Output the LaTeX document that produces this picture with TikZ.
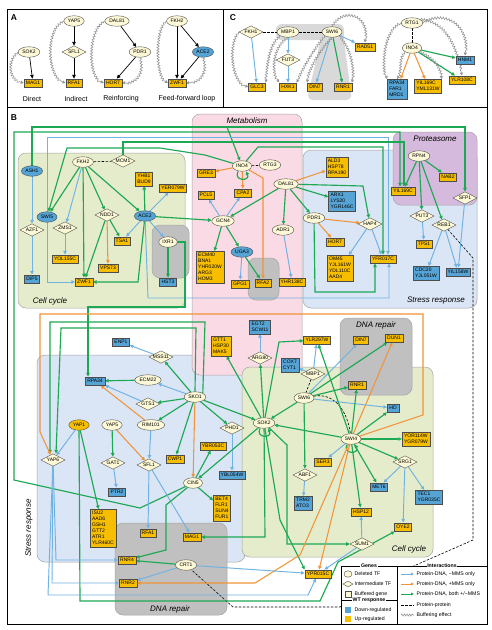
\documentclass[tikz,border=0pt]{standalone}
\usepackage{fontspec}
\setmainfont{Liberation Sans}
\usetikzlibrary{shapes.geometric,arrows.meta,decorations.pathmorphing}
\pgfdeclarelayer{bg}
\pgfdeclarelayer{edgel}
\pgfsetlayers{bg,edgel,main}
\definecolor{tfc}{RGB}{253,248,214}
\definecolor{dnb}{RGB}{86,164,213}
\definecolor{upy}{RGB}{247,190,0}
\definecolor{ebc}{RGB}{112,178,226}
\definecolor{eoc}{RGB}{240,148,58}
\definecolor{egc}{RGB}{29,168,84}
\definecolor{ccg}{RGB}{229,236,204}
\definecolor{metp}{RGB}{250,218,228}
\definecolor{strb}{RGB}{218,229,245}
\definecolor{prot}{RGB}{214,186,222}
\definecolor{dnag}{RGB}{192,192,192}
\definecolor{regb}{RGB}{165,165,165}
\definecolor{bufc}{RGB}{150,150,150}
\newcommand\nodefnt{\fontsize{5}{6}\selectfont}
\newcommand\regfnt{\fontsize{8}{9}\selectfont\itshape}
\newcommand\legfnt{\fontsize{5.2}{6}\selectfont}
\begin{document}
\begin{tikzpicture}[x=1pt,y=-1pt]
\tikzset{
 every node/.style={font=\nodefnt, text=black},
 tf/.style={ellipse, draw=black!75, line width=0.35pt, fill=tfc, inner xsep=1pt, inner ysep=0.3pt, minimum height=10.5pt, minimum width=17pt},
 tfb/.style={tf, fill=dnb},
 tfy/.style={tf, fill=upy},
 itf/.style={diamond, aspect=2, draw=black!75, line width=0.35pt, fill=tfc, inner sep=0pt, minimum height=12.5pt, minimum width=24pt},
 gu/.style={rectangle, draw=black!70, line width=0.4pt, fill=upy, inner xsep=2pt, inner ysep=2pt, align=left, minimum height=8.5pt},
 gd/.style={gu, fill=dnb},
 arr/.style={-{Triangle[length=3.6pt,width=3.4pt]}},
 eb/.style={draw=ebc, line width=0.95pt, arr},
 eo/.style={draw=eoc, line width=1.05pt, arr},
 eg/.style={draw=egc, line width=1.15pt, arr},
 ek/.style={draw=black, line width=0.7pt, arr},
 ppi/.style={draw=black, line width=0.6pt, dash pattern=on 2.5pt off 1.5pt},
 buf/.style={draw=bufc, line width=0.6pt, decorate, decoration={snake, amplitude=1.1pt, segment length=2.8pt, pre length=1pt, post length=3.5pt}, -{Triangle[length=3pt,width=3pt]}},
 region/.style={rounded corners=8pt, draw=regb, line width=0.5pt},
 rlab/.style={font=\regfnt},
 plab/.style={font=\fontsize{8.5}{9}\selectfont\bfseries},
 alab/.style={font=\fontsize{7}{8}\selectfont},
 lt/.style={fill=white, inner sep=0.7pt, font=\legfnt\bfseries},
 ll/.style={anchor=west, font=\legfnt, inner sep=0.5pt},
}
\useasboundingbox (0,0) rectangle (491,630);

% ---------------- backgrounds ----------------
\begin{pgfonlayer}{bg}
\fill[white] (0,0) rectangle (491,630);
\draw[region, fill=ccg] (18,153) rectangle (185,308);
\draw[region, fill=strb] (303,150) rectangle (477,308);
\draw[region, fill=prot] (393,132) rectangle (477,205);
\draw[region, fill=strb] (37,355) rectangle (245,562);
\draw[region, fill=metp] (192,114) rectangle (302,375);
\draw[region, fill=dnag] (248,258) rectangle (279,300);
\draw[region, fill=ccg] (242,367) rectangle (433,557);
\draw[region, fill=dnag] (340,318) rectangle (412,395);
\draw[region, fill=dnag] (115,523) rectangle (227,615);
\draw[region, fill=dnag] (152,225) rectangle (189,278);
\node[rlab] (lcc1) at (50,301) {Cell cycle};
\node[rlab] (lmet) at (247,121) {Metabolism};
\node[rlab] (lprot) at (435,139) {Proteasome};
\node[rlab] (lsr1) at (436,301) {Stress response};
\node[rlab] (ldna1) at (376,325) {DNA repair};
\node[rlab, rotate=90] (lsr2) at (29,528) {Stress response};
\node[rlab] (lcc2) at (409,549) {Cell cycle};
\node[rlab] (ldna2) at (170,609) {DNA repair};
\fill[gray!30, rounded corners=6pt] (276,24) rectangle (344,40);
\fill[gray!30, rounded corners=6pt] (322,34) -- (343,34) -- (352,100) -- (307,100) -- cycle;
\end{pgfonlayer}

% ---------------- frame ----------------
\draw[line width=0.7pt] (7,9) rectangle (487,624);
\draw[line width=0.7pt] (7,107) -- (487,107);
\draw[line width=0.7pt] (223,9) -- (223,107);
\node[plab] (pA) at (14,18) {A};
\node[plab] (pC) at (233,18) {C};
\node[plab] (pB) at (14,118) {B};

% ---------------- panel A ----------------
\node[tf] (aSOK2) at (29,52) {SOK2};
\node[gu] (aMAG1) at (33,83) {MAG1};
\node[tf] (aYAP5) at (74,21) {YAP5};
\node[itf] (aSFL1) at (74,52) {SFL1};
\node[gu] (aRFA1) at (74,83) {RFA1};
\node[tf] (aDAL81) at (117,21) {DAL81};
\node[tf] (aPDR1) at (140,52) {PDR1};
\node[gu] (aHOR7) at (113,83) {HOR7};
\node[tf] (aFKH2) at (177,21) {FKH2};
\node[tfb] (aACE2) at (203,52) {ACE2};
\node[gu] (aZWF1) at (177,83) {ZWF1};
\node[alab] (tA1) at (32,99) {Direct};
\node[alab] (tA2) at (76,99) {Indirect};
\node[alab] (tA3) at (121,99) {Reinforcing};
\node[alab] (tA4) at (187,99) {Feed-forward loop};

% ---------------- panel C ----------------
\node[itf] (cFKH1) at (251,32) {FKH1};
\node[tf] (cMBP1) at (288,32) {MBP1};
\node[tf] (cSWI6) at (332,32) {SWI6};
\node[gu] (cRAD51) at (365,47) {RAD51};
\node[itf] (cFUT3) at (288,60) {FUT3};
\node[gu] (cGLC3) at (257,87) {GLC3};
\node[gu] (cHXK1) at (288,87) {HXK1};
\node[gu] (cDIN7) at (315,87) {DIN7};
\node[gu] (cRNR1) at (343,87) {RNR1};
\node[tf] (cRTG1) at (412,23) {RTG1};
\node[tf] (cINO4) at (412,48) {INO4};
\node[gd] (cHNM1) at (465,60) {HNM1};
\node[gd] (cRPA34) at (397,89) {RPA34\\FAR1\\MRD1};
\node[gu] (cYIL169C) at (428,86) {YIL169C\\YML131W};
\node[gu] (cYLR108C) at (462,80) {YLR108C};

% ---------------- panel B nodes ----------------
\node[tfb] (ASH1) at (32,171) {ASH1};
\node[tf] (FKH2) at (83,162) {FKH2};
\node[itf] (MCM1) at (123,161) {MCM1};
\node[gu] (YHB1) at (144,179) {YHB1\\BUD9};
\node[gu] (YER079W) at (173,188) {YER079W};
\node[tfb] (SWI5) at (47,217) {SWI5};
\node[itf] (AZF1) at (32,230) {AZF1};
\node[itf] (ZMS1) at (65,228) {ZMS1};
\node[itf] (NDD1) at (107,215) {NDD1};
\node[tfb] (ACE2) at (145,216) {ACE2};
\node[gu] (TSA1) at (122,241) {TSA1};
\node[tf] (IXR1) at (168,242) {IXR1};
\node[gu] (YOL155C) at (65,259) {YOL155C};
\node[gu] (VPS73) at (108,268) {VPS73};
\node[gd] (DIP5) at (32,279) {DIP5};
\node[gu] (ZWF1) at (84,282) {ZWF1};
\node[gd] (HST3) at (168,282) {HST3};

\node[tf] (INO4) at (242,166) {INO4};
\node[tf] (RTG3) at (270,165) {RTG3};
\node[gu] (GRE3) at (206,173) {GRE3};
\node[gu] (CPA2) at (243,193) {CPA2};
\node[gu] (PCL5) at (206,195) {PCL5};
\node[tf] (GCN4) at (223,221) {GCN4};
\node[tf] (DAL81) at (286,184) {DAL81};
\node[tf] (ADR1) at (283,230) {ADR1};
\node[tfb] (UGA3) at (242,252) {UGA3};
\node[gu] (ECM40) at (210,267) {ECM40\\BNA1\\YHR020W\\ARG3\\HOM3};
\node[gu] (GPG1) at (240,284) {GPG1};
\node[gu] (RFA2) at (263,283) {RFA2};
\node[gu] (YHR138C) at (292,282) {YHR138C};

\node[gu] (ALD3) at (337,167) {ALD3\\HSP78\\RPA190};
\node[gd] (ARX1) at (342,201) {ARX1\\LYS20\\YGR146C};
\node[tf] (PDR1) at (314,218) {PDR1};
\node[itf] (HAP4) at (370,224) {HAP4};
\node[gu] (HOR7) at (335,242) {HOR7};
\node[gu] (OM45) at (340,268) {OM45\\YJL161W\\YDL110C\\AAD4};
\node[gu] (YFR017C) at (383,259) {YFR017C};
\node[tf] (RPN4) at (419,156) {RPN4};
\node[gu] (NAB2) at (448,177) {NAB2};
\node[gu] (YIL169C) at (403,191) {YIL169C};
\node[itf] (SFP1) at (465,198) {SFP1};
\node[itf] (PUT3) at (422,216) {PUT3};
\node[itf] (REB1) at (444,225) {REB1};
\node[gu] (TPS1) at (424,244) {TPS1};
\node[gd] (CDC20) at (426,273) {CDC20\\YJL051W};
\node[gd] (YIL158W) at (458,272) {YIL158W};

\node[gd] (ENP1) at (121,342) {ENP1};
\node[itf] (MSS11) at (161,357) {MSS11};
\node[gd] (EGT2) at (260,327) {EGT2\\SCW11};
\node[gu] (GTT1) at (221,346) {GTT1\\HSP30\\MAK5};
\node[itf] (ARG80) at (260,358) {ARG80};
\node[gu] (YLR297W) at (317,340) {YLR297W};
\node[gu] (DIN7) at (361,340) {DIN7};
\node[gu] (DUN1) at (394,338) {DUN1};
\node[gd] (COX7) at (290,365) {COX7\\CYT1};
\node[itf] (MBP1) at (313,374) {MBP1};
\node[gd] (RPA34) at (95,381) {RPA34};
\node[tf] (ECM22) at (148,380) {ECM22};
\node[gu] (RNR1) at (357,385) {RNR1};
\node[tf] (SKO1) at (195,397) {SKO1};
\node[tf] (SWI6) at (304,398) {SWI6};
\node[itf] (GTS1) at (148,404) {GTS1};
\node[gd] (HO) at (393,408) {HO};
\node[tfy] (YAP1) at (79,425) {YAP1};
\node[tf] (YAP5) at (112,425) {YAP5};
\node[tf] (RIM101) at (151,425) {RIM101};
\node[tf] (SOK2) at (264,423) {SOK2};
\node[itf] (PHD1) at (232,428) {PHD1};
\node[tf] (SWI4) at (351,439) {SWI4};
\node[gu] (YOR114W) at (416,439) {YOR114W\\YGR079W};
\node[gu] (YBR053C) at (213,446) {YBR053C};
\node[itf] (YAP6) at (53,460) {YAP6};
\node[itf] (GAT1) at (113,463) {GAT1};
\node[itf] (SFL1) at (149,465) {SFL1};
\node[gu] (CWP1) at (175,459) {CWP1};
\node[gu] (SER3) at (323,462) {SER3};
\node[itf] (SRG1) at (405,462) {SRG1};
\node[itf] (ABF1) at (305,475) {ABF1};
\node[gd] (YBL054W) at (232,475) {YBL054W};
\node[tf] (CIN5) at (193,483) {CIN5};
\node[gd] (MET6) at (379,487) {MET6};
\node[gd] (PTR2) at (117,492) {PTR2};
\node[gd] (TEC1) at (429,497) {TEC1\\YGR035C};
\node[gd] (TRM2) at (303,503) {TRM2\\ATO3};
\node[gu] (BET4) at (222,508) {BET4\\FLR1\\SUN4\\FUR1};
\node[gu] (HSP12) at (361,512) {HSP12};
\node[gu] (ISU2) at (103,528) {ISU2\\AAD6\\GSH1\\GTT2\\ATR1\\YLR460C};
\node[gu] (OYE2) at (403,527) {OYE2};
\node[gu] (RFA1) at (148,533) {RFA1};
\node[gu] (MAG1) at (192,537) {MAG1};
\node[itf] (SUM1) at (362,544) {SUM1};
\node[gu] (RNR4) at (127,560) {RNR4};
\node[tf] (CRT1) at (186,565) {CRT1};
\node[gu] (YPR015C) at (318,574) {YPR015C};
\node[gu] (RNR2) at (128,583) {RNR2};

% ---------------- edges ----------------
\begin{pgfonlayer}{edgel}
% panel A
\draw[ek] (aSOK2) -- (aMAG1);
\draw[ek] (aYAP5) -- (aSFL1);
\draw[ek] (aSFL1) -- (aRFA1);
\draw[ek] (aDAL81) -- (aPDR1);
\draw[ek] (aPDR1) -- (aHOR7);
\draw[ek] (aFKH2) -- (aZWF1);
\draw[ek] (aFKH2) -- (aACE2);
\draw[ek] (aACE2) -- (aZWF1);
\draw[buf] (aSOK2.west) .. controls (8,60) and (8,80) .. (aMAG1.west);
\draw[buf] (aYAP5.west) .. controls (45,30) and (48,80) .. (aRFA1.west);
\draw[buf] (aDAL81.west) .. controls (88,30) and (88,80) .. (aHOR7.west);
\draw[buf] (aPDR1.south) .. controls (144,72) and (138,83) .. (aHOR7.east);
\draw[buf] (aFKH2.west) .. controls (155,30) and (156,80) .. (aZWF1.west);
\draw[buf] (aACE2.south) .. controls (208,72) and (200,83) .. (aZWF1.east);
% panel C
\draw[eb] (cFKH1) -- (cGLC3);
\draw[eb] (cMBP1) -- (cFUT3);
\draw[eb] (cFUT3) -- (cHXK1);
\draw[eb] (cSWI6) -- (cDIN7);
\draw[eg] (cSWI6) -- (cRNR1);
\draw[eb] (cSWI6) -- (cRAD51);
\draw[ppi] (cFKH1) -- (cMBP1);
\draw[ppi] (cMBP1) -- (cSWI6);
\draw[ppi] (cRTG1) -- (cINO4);
\draw[eo] (cINO4) -- (cRPA34);
\draw[eo] (cINO4) -- (cYIL169C);
\draw[eg] (cINO4) -- (cYLR108C);
\draw[eg] (cINO4) -- (cHNM1);
\draw[buf] (cFKH1.west) .. controls (228,45) and (232,84) .. (cGLC3.west);
\draw[buf] (cMBP1.south west) .. controls (268,46) and (268,68) .. (cGLC3.north east);
\draw[buf] (cMBP1.south) .. controls (272,48) and (272,74) .. (cHXK1.north west);
\draw[buf] (cSWI6.south west) .. controls (312,52) and (302,70) .. (cHXK1.north east);
\draw[buf] (cSWI6.south) .. controls (318,52) and (308,72) .. (cDIN7.north west);
\draw[buf] (cSWI6.south east) .. controls (352,50) and (354,72) .. (cRNR1.north east);
\draw[buf] (cSWI6.north) .. controls (342,8) and (370,14) .. (cRAD51.north);
\draw[buf] (cRTG1.west) .. controls (384,30) and (382,68) .. (cRPA34.north west);
\draw[buf] (cRTG1.east) .. controls (442,10) and (470,24) .. (cHNM1.north);
\draw[buf] (cRTG1.north east) .. controls (448,22) and (456,50) .. (cYLR108C.north);
\draw[buf] (cINO4.south west) .. controls (398,60) and (404,70) .. (cRPA34.north);
\draw[buf] (cINO4.south east) .. controls (436,58) and (440,70) .. (cYIL169C.north east);

% panel B long top lines
\draw[eg] (ASH1) -- (32,127) -- (465,127) -- (SFP1);
\draw[eg] (227,127) -- (INO4);
\draw[eg] (CIN5) -- (140,508) -- (14,480) -- (14,132) -- (400,132) -- ([xshift=-3pt]YIL169C.north);
\draw[eb] (SWI5) -- (47,137) -- (388,137) -- ([xshift=5pt]YFR017C.north);
\draw[eg] (MCM1) -- (123,142) -- (404,142) -- ([xshift=1pt]YIL169C.north);
\draw[eg] (INO4) -- (258,147) -- (383,147) -- (YFR017C.north);
\draw[eg] (INO4) -- (205,155) -- (160,148) -- (67,148) -- (SWI5);
% cell cycle
\draw[eb] (ASH1) -- (AZF1);
\draw[eb] (AZF1) -- (DIP5);
\draw[ppi] (FKH2) -- (MCM1);
\draw[eg] (FKH2) -- (SWI5);
\draw[eb] (FKH2) -- (ZMS1);
\draw[eg] (FKH2) -- (NDD1);
\draw[eg] (FKH2) -- (ACE2);
\draw[eg] (FKH2) -- (ZWF1);
\draw[eb] (ZMS1) -- (YOL155C);
\draw[eg] (NDD1) -- (TSA1);
\draw[eo] (NDD1) -- (VPS73);
\draw[eg] (NDD1) -- (ZWF1);
\draw[eg] (ACE2) -- (YHB1);
\draw[eb] (ACE2) -- (YER079W);
\draw[eb] (ACE2) -- (TSA1);
\draw[eb] (ACE2) -- (IXR1);
\draw[eg] (ACE2) -- (138,282) -- (ZWF1);
\draw[eb] (SWI5) -- (47,282) -- (ZWF1);
\draw[eg] (ACE2) -- (GCN4);
\draw[eg] (IXR1) -- (HST3);
\draw[eb] (ACE2) -- (148,298) -- (389,298) -- ([xshift=6pt]YFR017C.south);
\draw[eg] (IXR1) -- (185,242) -- (185,307) -- (88,307) -- ([xshift=-7pt]RPA34.north);
% metabolism
\draw[eo] (INO4) -- (GRE3);
\draw[eo] (INO4) -- (CPA2);
\draw[eg] ([xshift=-4pt]INO4.south) .. controls +(-5,10) and +(5,10) .. ([xshift=4pt]INO4.south);
\draw[eo] (INO4) -- (263,178) -- (RFA2);
\draw[ppi] (INO4) -- (RTG3);
\draw[eb] (GCN4) -- (PCL5);
\draw[eb] (GCN4) -- (CPA2);
\draw[eg] (GCN4) -- (ECM40);
\draw[eg] (GCN4) -- (UGA3);
\draw[eb] (UGA3) -- (GPG1);
\draw[eg] (UGA3) -- (RFA2);
\draw[eb] (ADR1) -- (YHR138C);
\draw[eg] (DAL81) -- (GCN4);
\draw[eg] (DAL81) -- (ADR1);
\draw[eo] (DAL81) -- (ALD3);
\draw[eg] (DAL81) -- (ARX1);
\draw[eg] (DAL81) -- (PDR1);
\draw[eg] (DAL81) -- (363,186) -- (HAP4);
\draw[eo] (PDR1) -- (HAP4);
\draw[eo] (PDR1) -- (HOR7);
\draw[eg] (PDR1) -- (315,292) -- (375,292) -- ([xshift=-8pt]YFR017C.south);
\draw[eb] (HAP4) -- (OM45);
\draw[eb] (HAP4) -- (YFR017C);
% proteasome
\draw[eg] (RPN4) -- (YIL169C);
\draw[eg] (RPN4) -- (NAB2);
\draw[eg] (RPN4) -- (PUT3);
\draw[eg] (RPN4) -- (REB1);
\draw[eb] (PUT3) -- (TPS1);
\draw[eb] (REB1) -- (CDC20);
\draw[eb] (REB1) -- (YIL158W);
\draw[eb] (SFP1) -- (YIL158W);
\draw[ppi] (REB1) -- (473,258) -- (473,540) -- (400,572) -- (340,607) -- (233,607) -- (CRT1);
% lower left
\draw[eb] (MSS11) -- (ENP1);
\draw[eg] (SKO1) -- (MSS11);
\draw[eg] (ECM22) -- (RPA34);
\draw[eb] (GTS1) -- (RPA34);
\draw[eo] (RIM101) -- (RPA34);
\draw[eb] (SKO1) -- (ECM22);
\draw[eg] (SKO1) -- (GTS1);
\draw[eg] (SKO1) -- (RIM101);
\draw[eg] (SKO1) -- (PHD1);
\draw[eg] (SKO1) -- (SOK2);
\draw[eg] (SKO1) -- (CWP1);
\draw[eo] (SKO1) -- (CIN5);
\draw[eg] (SKO1.north east) -- (205,322) -- (50,322) -- ([xshift=-3pt]YAP6.north);
\draw[eg] (SKO1.north) -- (196,328) -- (61,328) -- ([xshift=3pt]YAP6.north);
\draw[eo] (SWI4) -- (423,415) -- (423,314) -- (40,314) -- (40,432) -- (YAP6);
\draw[eg] (YAP5) -- (GAT1);
\draw[eo] (YAP5) -- (SFL1);
\draw[eb] (GAT1) -- (PTR2);
\draw[eb] (RIM101) -- (SFL1);
\draw[eb] (SFL1) -- (RFA1);
\draw[eb] (SFL1) -- (MAG1);
\draw[eb] (YAP1) -- (YAP6);
\draw[eg] (YAP1) -- (ISU2);
\draw[eg] (YAP1) -- (80,601) -- (320,601) -- (338,562) -- (OYE2);
\draw[eb] (YAP6) -- (56,560) -- (RNR4);
\draw[eb] (YAP6) -- (52,583) -- (RNR2);
\draw[eb] (YAP6) -- (48,595) -- (308,595) -- (YPR015C);
\draw[eg] (CIN5) -- (YBR053C);
\draw[eg] (CIN5) -- (BET4);
\draw[eg] (CIN5) -- (166,505) -- (166,550) -- (RNR4);
\draw[eb] (PHD1) -- (YBL054W);
% SOK2
\draw[eg] (SOK2) -- (CIN5);
\draw[eg] (SOK2) -- (265,537) -- (MAG1);
\draw[eg] ([xshift=-4pt]SOK2.south) .. controls +(-5,10) and +(5,10) .. ([xshift=4pt]SOK2.south);
\draw[eg] (SOK2) -- (GTT1);
\draw[eg] (SOK2) -- (ARG80);
\draw[eg] (SOK2) -- (279,342) -- (YLR297W);
\draw[eg] (SOK2) -- (287,445) -- (287,544) -- (SUM1);
\draw[eg] (SOK2) -- (280,520) -- (YPR015C.north west);
\draw[eb] (ARG80) -- (EGT2);
% SWI6 / MBP1
\draw[eg] (SWI6) -- (SOK2);
\draw[eg] (SWI6) -- (ABF1);
\draw[eb] (ABF1) -- (TRM2);
\draw[ppi] (MBP1) -- (SWI6);
\draw[ppi] (SWI6) .. controls (336,392) and (348,414) .. (SWI4);
\draw[eb] (SWI6) -- (HO);
\draw[eb] (SWI6) -- (DIN7);
\draw[eg] (SWI6) -- (DUN1);
\draw[eg] (SWI6) -- (RNR1);
\draw[eb] (MBP1) -- (COX7);
\draw[eb] (MBP1) -- (YLR297W);
% SWI4
\draw[eg] (SWI4) -- (HO);
\draw[eg] (SWI4) -- (RNR1);
\draw[eg] (SWI4) -- (YOR114W);
\draw[eg] (SWI4) -- (SRG1);
\draw[eg] (SWI4) -- (MET6);
\draw[eg] (SWI4) -- (HSP12);
\draw[eo] (SWI4) -- (DUN1);
\draw[eb] (SWI4) -- (SER3);
\draw[eg] (SWI4) -- (SOK2);
\draw[eg] (SWI4) -- (YLR297W);
\draw[eg] ([xshift=-4pt]SWI4.south) .. controls +(-5,10) and +(5,10) .. ([xshift=4pt]SWI4.south);
\draw[eo] (SWI4) -- (YPR015C);
\draw[eo] (SWI4) -- (300,555) -- (255,583) -- (RNR2);
\draw[eb] (SRG1) -- (MET6);
\draw[eb] (SRG1) -- (TEC1);
\draw[eb] (SRG1) -- (OYE2);
\draw[eb] (SUM1) -- (HSP12);
\draw[eb] (SUM1) -- (YPR015C);
\draw[eg] (CRT1) -- (RNR4);
\draw[eb] (CRT1) -- (RNR2);
\draw[eb] (CRT1) -- (YPR015C);
\end{pgfonlayer}

% ---------------- legend ----------------
\fill[white] (341,566) rectangle (487,624);
\draw[line width=0.6pt] (341,624) -- (341,566) -- (487,566);
\draw[line width=0.6pt] (397,566) -- (397,624);
\draw[line width=0.6pt] (341,600) -- (397,600);
\node[lt] (lgT) at (369,566) {Genes};
\node[tf, minimum width=8pt, minimum height=6.5pt, inner sep=0pt] (lg1) at (348,574) {};
\node[ll] (lg1t) at (354,574) {Deleted TF};
\node[itf, minimum width=10pt, minimum height=6pt] (lg2) at (348,584) {};
\node[ll] (lg2t) at (354,584) {Intermediate TF};
\node[draw=black!70, fill=tfc, minimum size=6pt, inner sep=0pt] (lg3) at (348,594) {};
\node[ll] (lg3t) at (354,594) {Buffered gene};
\node[lt] (lwT) at (369,600) {WT response};
\node[fill=dnb, minimum size=6.5pt, inner sep=0pt] (lw1) at (348,610) {};
\node[ll] (lw1t) at (354,610) {Down-regulated};
\node[fill=upy, minimum size=6.5pt, inner sep=0pt] (lw2) at (348,619) {};
\node[ll] (lw2t) at (354,619) {Up-regulated};
\node[lt] (liT) at (442,566) {Interactions};
\coordinate (i1a) at (401,574); \coordinate (i1b) at (414,574);
\coordinate (i2a) at (401,584); \coordinate (i2b) at (414,584);
\coordinate (i3a) at (401,594); \coordinate (i3b) at (414,594);
\coordinate (i4a) at (401,605); \coordinate (i4b) at (414,605);
\coordinate (i5a) at (401,615); \coordinate (i5b) at (414,615);
\draw[eb, line width=0.8pt, -{Triangle[length=2.8pt,width=2.6pt]}] (i1a) -- (i1b);
\draw[eo, line width=0.8pt, -{Triangle[length=2.8pt,width=2.6pt]}] (i2a) -- (i2b);
\draw[eg, line width=0.9pt, -{Triangle[length=2.8pt,width=2.6pt]}] (i3a) -- (i3b);
\draw[ppi] (i4a) -- (i4b);
\draw[draw=bufc, line width=0.6pt, decorate, decoration={snake, amplitude=1pt, segment length=2.6pt}] (i5a) -- (i5b);
\node[ll] (li1) at (416,574) {Protein-DNA, −MMS only};
\node[ll] (li2) at (416,584) {Protein-DNA, +MMS only};
\node[ll] (li3) at (416,594) {Protein-DNA, both +/−MMS};
\node[ll] (li4) at (416,605) {Protein-protein};
\node[ll] (li5) at (416,615) {Buffering effect};
\end{tikzpicture}
\end{document}
